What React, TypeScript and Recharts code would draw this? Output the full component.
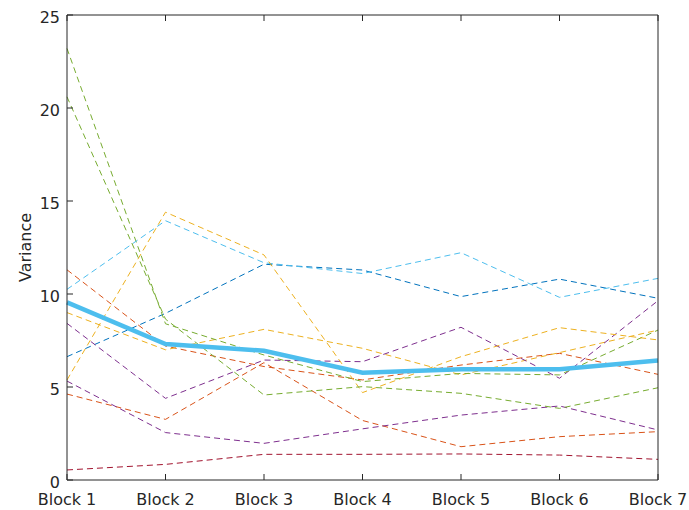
import React from 'react';
import { LineChart, Line, XAxis, YAxis, Label } from 'recharts';

// Block labels along the x axis
const blocks = ['Block 1', 'Block 2', 'Block 3', 'Block 4', 'Block 5', 'Block 6', 'Block 7'];
const yTicks = [0, 5, 10, 15, 20, 25];

// Per-subject variance traces (dashed)
const blueA = [6.63, 8.96, 11.6, 11.29, 9.86, 10.8, 9.77];
const orangeA = [11.3, 7.2, 6.1, 5.38, 6.18, 6.81, 5.68];
const orangeB = [4.62, 3.26, 6.31, 3.2, 1.79, 2.33, 2.6];
const yellowA = [9.0, 7.0, 8.1, 7.08, 5.65, 6.85, 8.06];
const yellowB = [5.38, 14.4, 12.1, 4.7, 6.63, 8.19, 7.53];
const purpleA = [8.42, 4.39, 6.45, 6.36, 8.21, 5.47, 9.64];
const purpleB = [5.32, 2.55, 1.97, 2.75, 3.49, 3.98, 2.69];
const greenA = [23.2, 8.4, 6.72, 5.29, 5.73, 5.65, 8.06];
const greenB = [20.6, 8.65, 4.57, 5.02, 4.66, 3.85, 4.96];
const lightBlue = [10.25, 13.94, 11.68, 11.1, 12.22, 9.82, 10.84];
const darkRed = [0.54, 0.84, 1.38, 1.38, 1.4, 1.34, 1.11];

// Average across subjects (thick line)
const meanVar = [9.55, 7.31, 6.95, 5.77, 5.95, 5.95, 6.42];

const series: { key: string; values: number[]; color: string }[] = [
  { key: 'blueA', values: blueA, color: '#0072BD' },
  { key: 'orangeA', values: orangeA, color: '#D95319' },
  { key: 'yellowA', values: yellowA, color: '#EDB120' },
  { key: 'purpleA', values: purpleA, color: '#7E2F8E' },
  { key: 'greenA', values: greenA, color: '#77AC30' },
  { key: 'lightBlue', values: lightBlue, color: '#4DBEEE' },
  { key: 'darkRed', values: darkRed, color: '#A2142F' },
  { key: 'orangeB', values: orangeB, color: '#D95319' },
  { key: 'yellowB', values: yellowB, color: '#EDB120' },
  { key: 'purpleB', values: purpleB, color: '#7E2F8E' },
  { key: 'greenB', values: greenB, color: '#77AC30' },
];

const data = blocks.map((b, i) => {
  const row: Record<string, number | string> = { block: b, mean: meanVar[i] };
  series.forEach((s) => {
    row[s.key] = s.values[i];
  });
  return row;
});

const FONT = '"DejaVu Sans", "Liberation Sans", Arial, sans-serif';
const INK = '#262626';
const TICK = 6;

const BottomTick = (props: any) => {
  const { x, y, payload } = props;
  return (
    <g>
      <line x1={x} y1={y} x2={x} y2={y - TICK} stroke={INK} strokeWidth={1} />
      <text x={x} y={y + 25} textAnchor="middle" fontFamily={FONT} fontSize={16} fill={INK}>
        {payload.value}
      </text>
    </g>
  );
};

const TopTick = (props: any) => {
  const { x, y } = props;
  return <line x1={x} y1={y} x2={x} y2={y + TICK} stroke={INK} strokeWidth={1} />;
};

const LeftTick = (props: any) => {
  const { x, y, payload } = props;
  return (
    <g>
      <line x1={x} y1={y} x2={x + TICK} y2={y} stroke={INK} strokeWidth={1} />
      <text x={x - 7} y={y + 7.5} textAnchor="end" fontFamily={FONT} fontSize={16} fill={INK}>
        {payload.value}
      </text>
    </g>
  );
};

const RightTick = (props: any) => {
  const { x, y } = props;
  return <line x1={x} y1={y} x2={x - TICK} y2={y} stroke={INK} strokeWidth={1} />;
};

const YTitle = (props: any) => {
  const { viewBox } = props;
  const cx = viewBox.x + 31;
  const cy = viewBox.y + viewBox.height / 2;
  return (
    <text
      x={cx}
      y={cy}
      textAnchor="middle"
      fontFamily={FONT}
      fontSize={16}
      fill={INK}
      transform={`rotate(-90, ${cx}, ${cy})`}
    >
      Variance
    </text>
  );
};

export default function App() {
  return (
    <div style={{ position: 'absolute', left: 0, top: 0, width: 689, height: 510, background: '#fff' }}>
      <LineChart width={689} height={510} data={data} margin={{ top: 14, right: 30, bottom: 0, left: 0 }}>
        <XAxis
          dataKey="block"
          type="category"
          scale="point"
          padding={{ left: 0, right: 0 }}
          height={30}
          tickSize={0}
          tickMargin={0}
          tickLine={false}
          axisLine={{ stroke: INK, strokeWidth: 1 }}
          tick={<BottomTick />}
          interval={0}
        />
        <XAxis
          xAxisId="top"
          orientation="top"
          dataKey="block"
          type="category"
          scale="point"
          padding={{ left: 0, right: 0 }}
          height={1}
          tickSize={0}
          tickMargin={0}
          tickLine={false}
          axisLine={{ stroke: INK, strokeWidth: 1 }}
          tick={<TopTick />}
          interval={0}
        />
        <YAxis
          type="number"
          domain={[0, 25]}
          ticks={yTicks}
          width={67}
          tickSize={0}
          tickMargin={0}
          tickLine={false}
          axisLine={{ stroke: INK, strokeWidth: 1 }}
          tick={<LeftTick />}
          interval={0}
        >
          <Label content={<YTitle />} />
        </YAxis>
        <YAxis
          yAxisId="right"
          orientation="right"
          type="number"
          domain={[0, 25]}
          ticks={yTicks}
          width={1}
          tickSize={0}
          tickMargin={0}
          tickLine={false}
          axisLine={{ stroke: INK, strokeWidth: 1 }}
          tick={<RightTick />}
          interval={0}
        />
        {series.map((s) => (
          <Line
            key={s.key}
            dataKey={s.key}
            stroke={s.color}
            strokeWidth={1}
            strokeDasharray="6 4"
            dot={false}
            activeDot={false}
            isAnimationActive={false}
          />
        ))}
        <Line
          dataKey="mean"
          stroke="#4DBEEE"
          strokeWidth={4.5}
          dot={false}
          activeDot={false}
          isAnimationActive={false}
        />
      </LineChart>
    </div>
  );
}
